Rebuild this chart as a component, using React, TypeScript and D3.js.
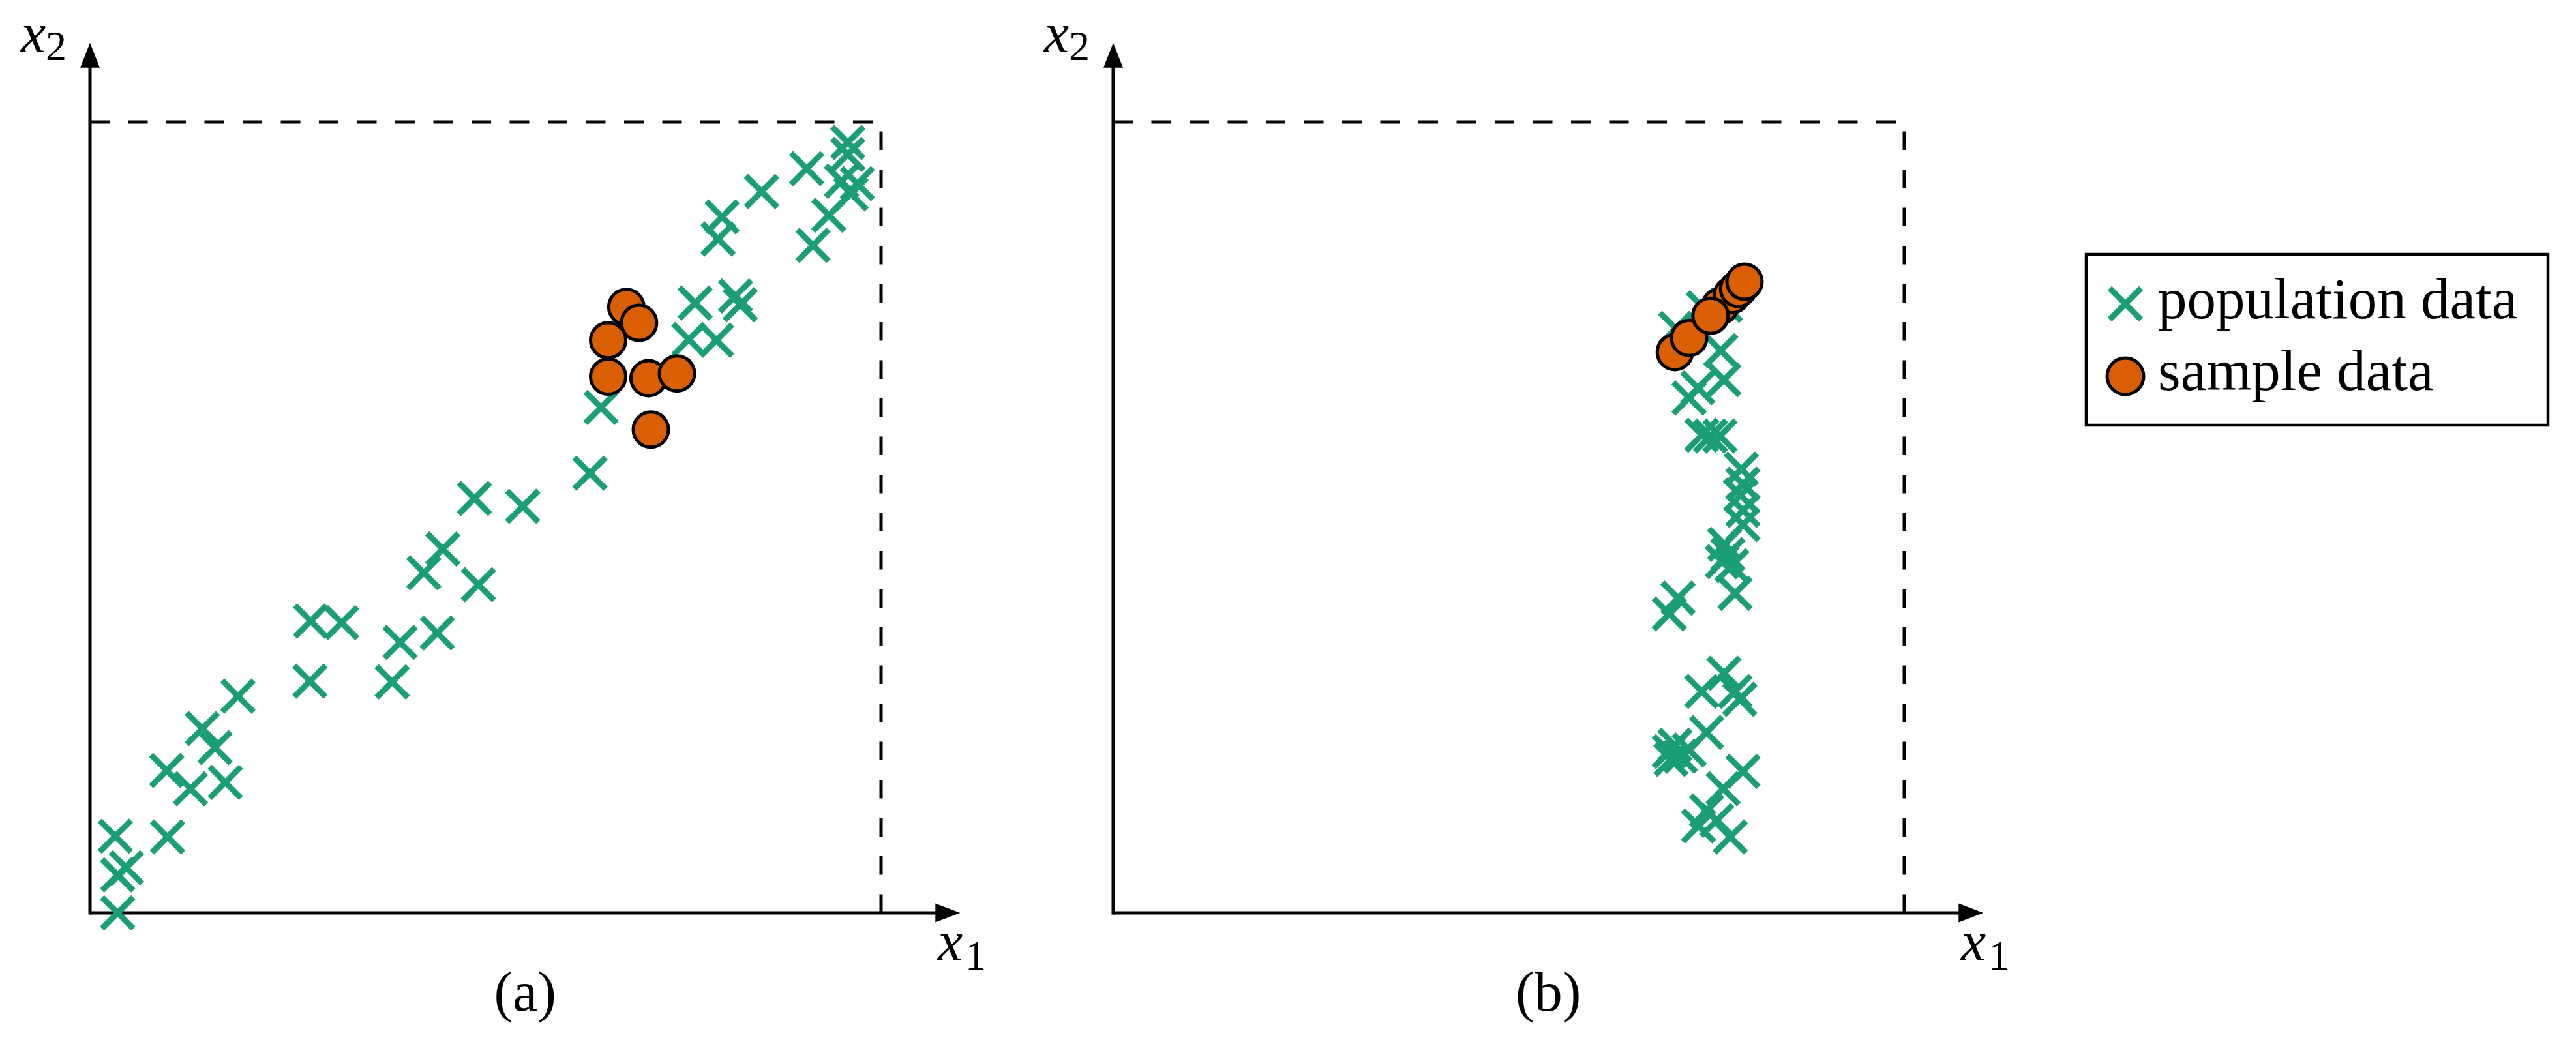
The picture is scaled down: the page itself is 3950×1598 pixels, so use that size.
import React from "react";
import * as d3 from "d3";

// ---- data (unit square) ----
const popA: [number, number][] = [
  [0.958, 0.974], [0.958, 0.959], [0.906, 0.941], [0.849, 0.912], [0.95, 0.925],
  [0.97, 0.922], [0.962, 0.909], [0.934, 0.882], [0.914, 0.844], [0.799, 0.88],
  [0.794, 0.852], [0.765, 0.771], [0.816, 0.78], [0.822, 0.769], [0.757, 0.725],
  [0.792, 0.724], [0.646, 0.639], [0.632, 0.556], [0.486, 0.524], [0.547, 0.514],
  [0.446, 0.46], [0.422, 0.43], [0.491, 0.415], [0.279, 0.369], [0.318, 0.367],
  [0.392, 0.342], [0.439, 0.354], [0.278, 0.293], [0.382, 0.292], [0.187, 0.274],
  [0.142, 0.233], [0.158, 0.209], [0.097, 0.18], [0.127, 0.157], [0.171, 0.165],
  [0.032, 0.097], [0.098, 0.096], [0.046, 0.057], [0.035, 0.048], [0.035, 0.0],
];
const sampleA: [number, number][] = [
  [0.678, 0.766], [0.655, 0.724], [0.694, 0.746], [0.655, 0.678],
  [0.706, 0.676], [0.742, 0.682], [0.709, 0.611],
];
const popB: [number, number][] = [
  [0.746, 0.765], [0.711, 0.739], [0.774, 0.768], [0.768, 0.711], [0.772, 0.674],
  [0.728, 0.651], [0.739, 0.664], [0.744, 0.604], [0.755, 0.603], [0.767, 0.603],
  [0.794, 0.561], [0.796, 0.542], [0.793, 0.528], [0.796, 0.509], [0.796, 0.491],
  [0.773, 0.466], [0.777, 0.453], [0.782, 0.439], [0.77, 0.444], [0.786, 0.404],
  [0.714, 0.398], [0.703, 0.378], [0.772, 0.303], [0.744, 0.28], [0.786, 0.28],
  [0.792, 0.27], [0.71, 0.212], [0.703, 0.204], [0.717, 0.198], [0.705, 0.194],
  [0.75, 0.228], [0.796, 0.179], [0.771, 0.157], [0.75, 0.129], [0.74, 0.11],
  [0.78, 0.096], [0.763, 0.117], [0.728, 0.206],
];
const sampleB: [number, number][] = [
  [0.71, 0.709], [0.767, 0.767], [0.782, 0.781], [0.79, 0.789],
  [0.728, 0.727], [0.755, 0.755], [0.798, 0.798],
];
const captions = ["(a)", "(b)"];
const legendLabels = ["population data", "sample data"];

const GREEN = "#1b9e77";
const ORANGE = "#d95f02";
const FONT = "'Liberation Serif', 'Times New Roman', serif";
const SIDE = 1213;
const ORIGIN_Y = 1400;
const ARM = 24;
const R = 27;

function Cross({ cx, cy }: { cx: number; cy: number }) {
  return (
    <g stroke={GREEN} strokeWidth={9} strokeLinecap="butt">
      <line x1={cx - ARM} y1={cy - ARM} x2={cx + ARM} y2={cy + ARM} />
      <line x1={cx - ARM} y1={cy + ARM} x2={cx + ARM} y2={cy - ARM} />
    </g>
  );
}

function Panel({ ox, pop, sample, caption }: { ox: number; pop: [number, number][]; sample: [number, number][]; caption: string }) {
  const x = d3.scaleLinear().domain([0, 1]).range([ox, ox + SIDE]);
  const y = d3.scaleLinear().domain([0, 1]).range([ORIGIN_Y, ORIGIN_Y - SIDE]);
  const arrowTipX = x(1.1);
  const arrowTipY = y(1.1);
  return (
    <g>
      {/* dashed bounding lines */}
      <line x1={x(0)} y1={y(1)} x2={x(1)} y2={y(1)} stroke="#000" strokeWidth={5} strokeDasharray="30 28.5" />
      <line x1={x(1)} y1={y(0)} x2={x(1)} y2={y(1)} stroke="#000" strokeWidth={5} strokeDasharray="28.5 30" />
      {/* axes */}
      <line x1={x(0)} y1={y(0)} x2={arrowTipX - 36} y2={y(0)} stroke="#000" strokeWidth={5} />
      <polygon points={`${arrowTipX},${y(0)} ${arrowTipX - 38},${y(0) - 14.5} ${arrowTipX - 38},${y(0) + 14.5}`} fill="#000" />
      <line x1={x(0)} y1={y(0) + 2.5} x2={x(0)} y2={arrowTipY + 36} stroke="#000" strokeWidth={5} />
      <polygon points={`${x(0)},${arrowTipY} ${x(0) - 15},${arrowTipY + 38} ${x(0) + 15},${arrowTipY + 38}`} fill="#000" />
      {/* axis labels */}
      <text x={ox - 106} y={80} fontFamily={FONT} fontStyle="italic" fontSize={86}>x</text>
      <text x={ox - 68} y={92} fontFamily={FONT} fontSize={64}>2</text>
      <text x={ox + 1300} y={1473} fontFamily={FONT} fontStyle="italic" fontSize={86}>x</text>
      <text x={ox + 1342} y={1487} fontFamily={FONT} fontSize={64}>1</text>
      {/* caption */}
      <text x={(x(0) + arrowTipX) / 2} y={1550} textAnchor="middle" fontFamily={FONT} fontSize={86}>{caption}</text>
      {/* data */}
      {pop.map((p, i) => <Cross key={"p" + i} cx={x(p[0])} cy={y(p[1])} />)}
      {sample.map((p, i) => (
        <circle key={"s" + i} cx={x(p[0])} cy={y(p[1])} r={R} fill={ORANGE} stroke="#000" strokeWidth={5} />
      ))}
    </g>
  );
}

export default function App() {
  return (
    <svg width={3950} height={1598} style={{ position: "absolute", left: 0, top: 0, background: "#fff" }}>
      <rect x={0} y={0} width={3950} height={1598} fill="#fff" />
      <Panel ox={138} pop={popA} sample={sampleA} caption={captions[0]} />
      <Panel ox={1707} pop={popB} sample={sampleB} caption={captions[1]} />
      {/* legend */}
      <rect x={3199} y={390} width={708} height={262} fill="#fff" stroke="#000" strokeWidth={4.5} />
      <Cross cx={3259} cy={466} />
      <text x={3309} y={488} fontFamily={FONT} fontSize={89}>{legendLabels[0]}</text>
      <circle cx={3259} cy={577} r={R + 1} fill={ORANGE} stroke="#000" strokeWidth={5} />
      <text x={3309} y={598} fontFamily={FONT} fontSize={89}>{legendLabels[1]}</text>
    </svg>
  );
}
